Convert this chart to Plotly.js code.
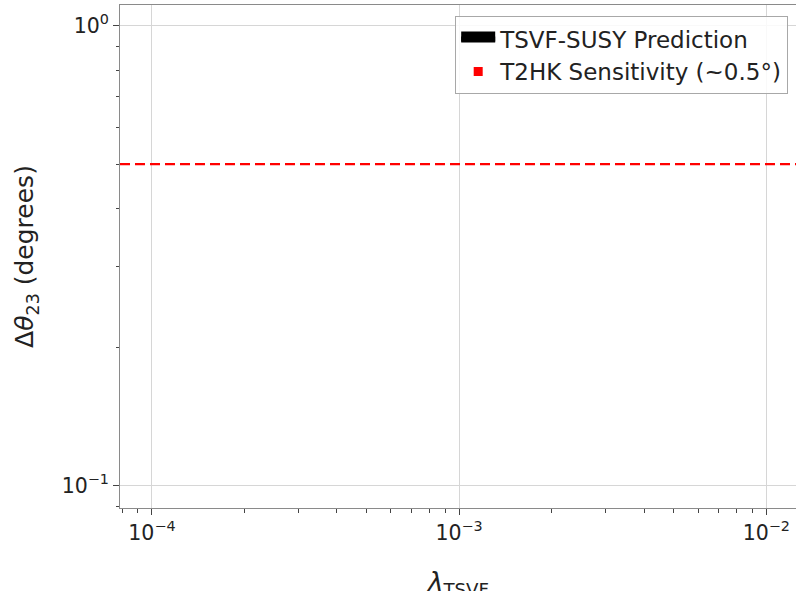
<!DOCTYPE html>
<html>
<head>
<meta charset="utf-8">
<script src="https://cdn.plot.ly/plotly-3.0.1.min.js"></script>
<style>
  html, body { margin: 0; padding: 0; overflow: hidden; background: #fff; }
  #chart { width: 800px; height: 600px; }
</style>
</head>
<body>
<div id="chart"></div>
<script>
// TSVF coupling values and the predicted Δθ23 band (degrees)
const lambdaTSVF = [1e-4, 3e-4, 1e-3, 3e-3, 1e-2];
const predLow    = [0.00001, 0.00009, 0.001, 0.009, 0.03];
const predHigh   = [0.00003, 0.0003, 0.003, 0.02, 0.06];

// T2HK sensitivity to Δθ23 (degrees)
const t2hkSensitivity = 0.5;

// Axis decades and tick labels
const xTickVals = [1e-4, 1e-3, 1e-2];
const xTickText = ['10<sup>\u22124</sup>', '10<sup>\u22123</sup>', '10<sup>\u22122</sup>'];
const yTickVals = [0.1, 1];
const yTickText = ['10<sup>\u22121</sup>', '10<sup>0</sup>'];

function minorTicks(fromExp, toExp) {
  const out = [];
  for (let e = fromExp; e <= toExp; e++) {
    for (let m = 2; m <= 9; m++) out.push(m * Math.pow(10, e));
  }
  return out;
}

const FONT = 'DejaVu Sans, Verdana, sans-serif';

const bandX = lambdaTSVF.concat(lambdaTSVF.slice().reverse());
const bandY = predHigh.concat(predLow.slice().reverse());

const traces = [
  {
    type: 'scatter',
    x: bandX,
    y: bandY,
    mode: 'lines',
    fill: 'toself',
    fillcolor: '#000000',
    line: { color: '#000000', width: 11 },
    name: 'TSVF-SUSY Prediction',
    hoverinfo: 'skip'
  },
  {
    // legend entry for the sensitivity line drawn as a layout shape
    type: 'scatter',
    x: [null],
    y: [null],
    mode: 'markers',
    marker: { symbol: 'square', color: '#ff0000', size: 9 },
    name: 'T2HK Sensitivity (~0.5\u00b0)',
    hoverinfo: 'skip'
  }
];

const axisCommon = {
  type: 'log',
  showline: true,
  linecolor: '#8a8a8a',
  linewidth: 1,
  mirror: true,
  showgrid: true,
  gridcolor: '#d6d6d6',
  gridwidth: 1,
  zeroline: false,
  ticks: 'outside',
  ticklen: 6,
  tickwidth: 1,
  tickcolor: '#444',
  tickmode: 'array',
  tickfont: { family: FONT, size: 20.5, color: '#222' }
};

const layout = {
  width: 800,
  height: 600,
  margin: { l: 120, r: 3, t: 5, b: 92 },
  paper_bgcolor: '#ffffff',
  plot_bgcolor: '#ffffff',
  font: { family: FONT, color: '#222' },
  showlegend: true,
  legend: {
    x: 0.987,
    y: 0.978,
    xanchor: 'right',
    yanchor: 'top',
    bgcolor: 'rgba(255,255,255,0.85)',
    bordercolor: '#a8a8a8',
    borderwidth: 1,
    font: { family: FONT, size: 23, color: '#222' },
    itemwidth: 34,
    tracegroupgap: 0
  },
  xaxis: Object.assign({}, axisCommon, {
    range: [-4.104, -1.9],
    tickvals: xTickVals,
    ticktext: xTickText,
    minor: {
      tickmode: 'array',
      tickvals: minorTicks(-5, -2),
      ticks: 'outside',
      ticklen: 3.5,
      tickcolor: '#444',
      showgrid: false
    },
    title: {
      text: '<i>\u03bb</i><sub>TSVF</sub>',
      font: { family: FONT, size: 26, color: '#222' },
      standoff: 30
    }
  }),
  yaxis: Object.assign({}, axisCommon, {
    range: [-1.048, 0.0445],
    tickvals: yTickVals,
    ticktext: yTickText,
    minor: {
      tickmode: 'array',
      tickvals: minorTicks(-2, 0),
      ticks: 'outside',
      ticklen: 3.5,
      tickcolor: '#444',
      showgrid: false
    },
    title: {
      text: '\u0394<i>\u03b8</i><sub>23</sub> (degrees)',
      font: { family: FONT, size: 25, color: '#222' },
      standoff: 20
    }
  }),
  shapes: [
    {
      type: 'line',
      xref: 'paper',
      x0: 0,
      x1: 1,
      yref: 'y',
      y0: t2hkSensitivity,
      y1: t2hkSensitivity,
      line: { color: '#ff0000', width: 2.2, dash: '10px,5px' }
    }
  ]
};

Plotly.newPlot('chart', traces, layout, { displayModeBar: false, staticPlot: true });
</script>
</body>
</html>
